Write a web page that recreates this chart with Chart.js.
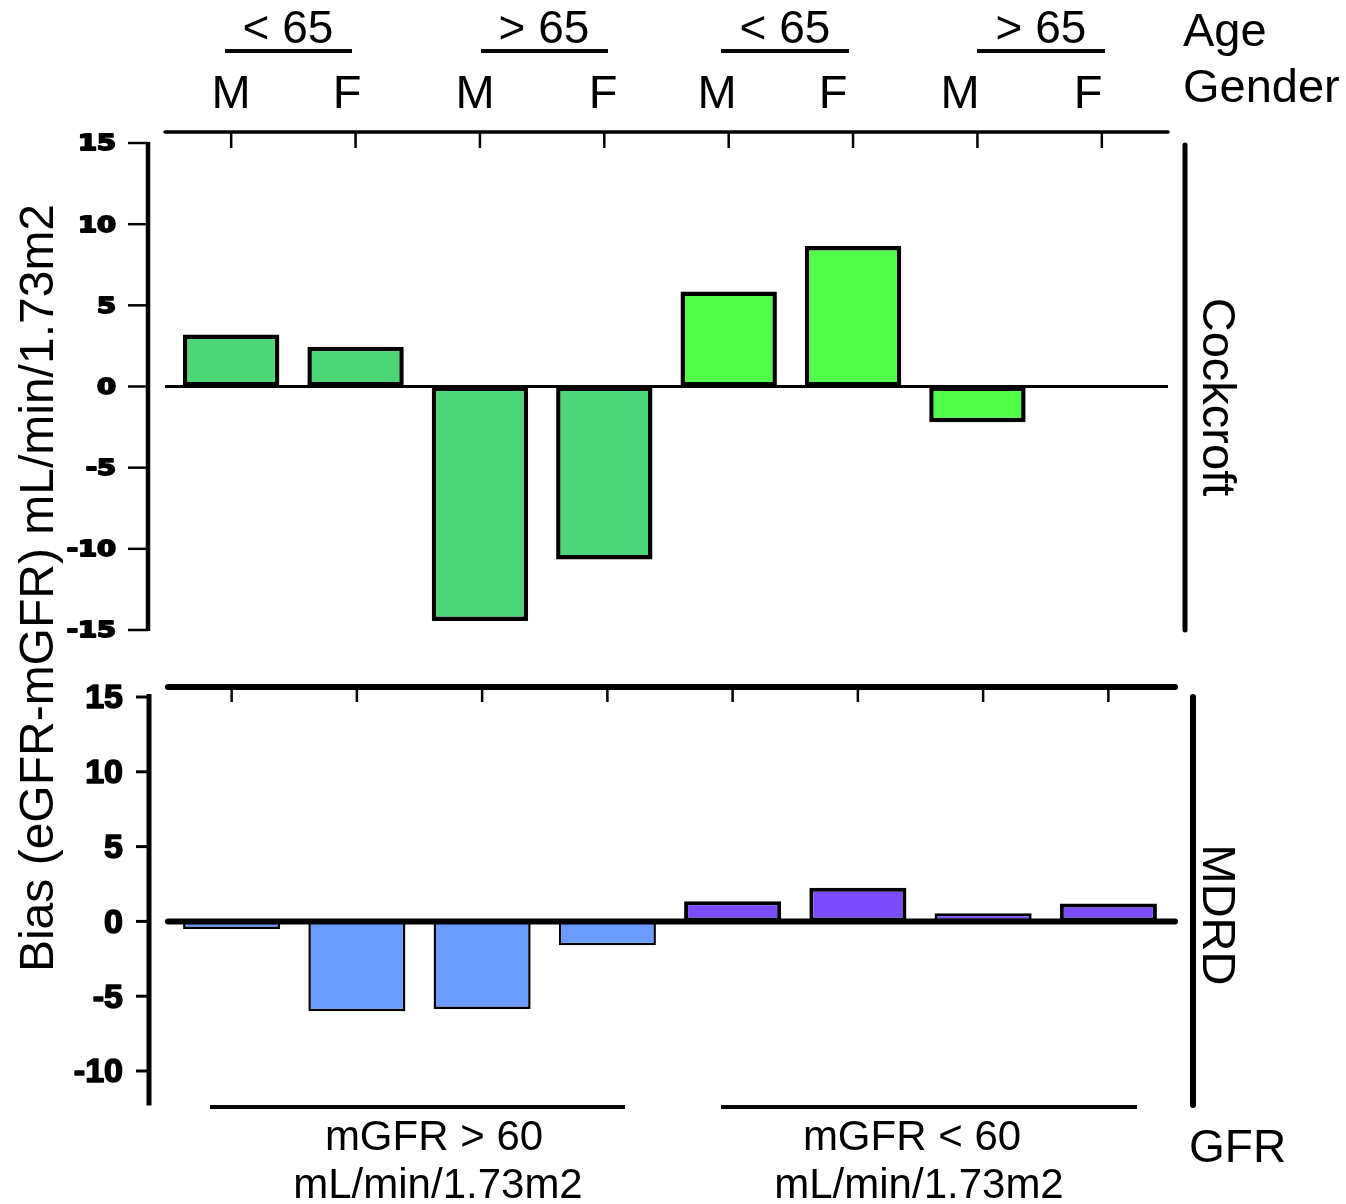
<!DOCTYPE html>
<html>
<head>
<meta charset="utf-8">
<script src="https://cdn.jsdelivr.net/npm/chart.js@4.4.0/dist/chart.umd.min.js"></script>
<style>
  html, body { margin: 0; padding: 0; background: #fff; }
  #wrap { position: relative; width: 1346px; height: 1204px; overflow: hidden; }
  canvas { position: absolute; left: 0; top: 0; }
</style>
</head>
<body>
<div id="wrap">
  <canvas id="top" width="1346" height="1204"></canvas>
  <canvas id="bottom" width="1346" height="1204"></canvas>
</div>
<script>
// ---------------- DATA ----------------
const categories = ['M', 'F', 'M', 'F', 'M', 'F', 'M', 'F'];
const ageGroups = ['< 65', '> 65', '< 65', '> 65'];
const cockcroftBias = [3.2, 2.45, -14.45, -10.65, 5.85, 8.65, -2.2, 0];
const mdrdBias = [-0.5, -6.0, -5.85, -1.6, 1.35, 2.25, 0.55, 1.2];
const cockcroftTicks = [15, 10, 5, 0, -5, -10, -15];
const mdrdTicks = [15, 10, 5, 0, -5, -10];
const gfrGroupLine1 = ['mGFR > 60', 'mGFR < 60'];
const gfrGroupLine2 = ['mL/min/1.73m2', 'mL/min/1.73m2'];
const yTitle = 'Bias (eGFR-mGFR) mL/min/1.73m2';
const panelNames = ['Cockcroft', 'MDRD'];

// ---------------- helpers ----------------
const FONT = '"Liberation Sans", Arial, Helvetica, sans-serif';
function line(ctx, x1, y1, x2, y2, w, cap) {
  ctx.beginPath();
  ctx.lineWidth = w;
  ctx.lineCap = cap || 'butt';
  ctx.moveTo(x1, y1);
  ctx.lineTo(x2, y2);
  ctx.stroke();
}
function text(ctx, s, x, y, font, align, baseline, rot, sx, strokeW) {
  ctx.save();
  ctx.translate(x, y);
  if (rot) ctx.rotate(rot);
  if (sx) ctx.scale(sx, 1);
  ctx.font = font;
  ctx.textAlign = align || 'center';
  ctx.textBaseline = baseline || 'alphabetic';
  ctx.fillText(s, 0, 0);
  if (strokeW) {
    ctx.lineWidth = strokeW;
    ctx.lineJoin = 'round';
    ctx.strokeText(s, 0, 0);
  }
  ctx.restore();
}

// ---------------- TOP (Cockcroft) ----------------
const topDecor = {
  id: 'topDecor',
  afterDatasetsDraw(chart) {
    const { ctx } = chart;
    const x = chart.scales.x, y = chart.scales.y;
    ctx.save();
    ctx.strokeStyle = '#000';
    ctx.fillStyle = '#000';
    // y axis
    line(ctx, 148, y.getPixelForValue(15) - 1, 148, y.getPixelForValue(-15) + 1, 4.5);
    cockcroftTicks.forEach(v => {
      const py = y.getPixelForValue(v);
      line(ctx, 128, py, 148, py, 2.5);
      text(ctx, String(v), 116, py + 2, 'bold 21px "DejaVu Sans", sans-serif', 'right', 'middle', 0, 1.3, 1.8);
    });
    // zero line
    const y0 = y.getPixelForValue(0);
    line(ctx, 165, y0, 1168, y0, 3);
    // top frame line with ticks
    line(ctx, 165, 132, 1168, 132, 3.5, 'round');
    categories.forEach((c, i) => {
      const px = x.getPixelForValue(i);
      line(ctx, px, 132, px, 148, 2.5);
    });
    // right bracket
    line(ctx, 1185, 145, 1185, 630, 5, 'round');
    text(ctx, panelNames[0], 1203, 397, '47px ' + FONT, 'center', 'alphabetic', Math.PI / 2);

    // header: age groups with underlines
    const ageX = [288, 544, 785, 1041];
    const ulStart = [225, 481, 721, 977];
    const ulEnd = [352, 608, 849, 1105];
    ageGroups.forEach((g, i) => {
      text(ctx, g, ageX[i], 43, '46px ' + FONT, 'center');
      line(ctx, ulStart[i], 51, ulEnd[i], 51, 4);
    });
    // gender labels
    const genX = [231, 347, 475, 603, 717, 833, 960, 1088];
    categories.forEach((c, i) => {
      text(ctx, c, genX[i], 108, '47px ' + FONT, 'center');
    });
    text(ctx, 'Age', 1183, 46, '47px ' + FONT, 'left');
    text(ctx, 'Gender', 1183, 102, '47px ' + FONT, 'left');

    // shared y title
    text(ctx, yTitle, 53, 588, '48px ' + FONT, 'center', 'alphabetic', -Math.PI / 2);
    ctx.restore();
  }
};

new Chart(document.getElementById('top'), {
  type: 'bar',
  data: {
    labels: categories,
    datasets: [{
      data: cockcroftBias,
      backgroundColor: ['#4cd676', '#4cd676', '#4cd676', '#4cd676', '#50ff4a', '#50ff4a', '#50ff4a', '#50ff4a'],
      borderColor: '#000',
      borderWidth: 4.5,
      borderSkipped: false,
      barPercentage: 0.775,
      categoryPercentage: 1
    }]
  },
  options: {
    responsive: false,
    animation: false,
    devicePixelRatio: 1,
    layout: { padding: { left: 169, right: 182, top: 143, bottom: 1204 - 630 } },
    plugins: { legend: { display: false }, tooltip: { enabled: false } },
    scales: {
      x: { display: false },
      y: { display: false, min: -15, max: 15 }
    }
  },
  plugins: [topDecor]
});

// ---------------- BOTTOM (MDRD) ----------------
const bottomDecor = {
  id: 'bottomDecor',
  afterDatasetsDraw(chart) {
    const { ctx } = chart;
    const x = chart.scales.x, y = chart.scales.y;
    ctx.save();
    ctx.strokeStyle = '#000';
    ctx.fillStyle = '#000';
    // y axis
    line(ctx, 149, y.getPixelForValue(15) - 3, 149, chart.chartArea.bottom, 5);
    mdrdTicks.forEach(v => {
      const py = y.getPixelForValue(v);
      line(ctx, 136, py, 149, py, 3);
      text(ctx, String(v), 123, py + 2, 'bold 34px ' + FONT, 'right', 'middle', 0, 1.0, 1.6);
    });
    // top frame line with ticks
    line(ctx, 168, 687, 1175, 687, 6, 'round');
    categories.forEach((c, i) => {
      const px = x.getPixelForValue(i);
      line(ctx, px, 687, px, 702, 2.5);
    });
    // zero line
    const y0 = y.getPixelForValue(0);
    line(ctx, 168, y0, 1175, y0, 6, 'round');
    // right bracket
    line(ctx, 1193, 697, 1193, 1105, 6, 'round');
    text(ctx, panelNames[1], 1203, 915, '47px ' + FONT, 'center', 'alphabetic', Math.PI / 2);

    // GFR groups
    const lnStart = [210, 721], lnEnd = [625, 1137];
    const t1X = [434, 912], t2X = [438, 919];
    gfrGroupLine1.forEach((g, i) => {
      line(ctx, lnStart[i], 1107, lnEnd[i], 1107, 4);
      text(ctx, g, t1X[i], 1150, '42px ' + FONT, 'center');
      text(ctx, gfrGroupLine2[i], t2X[i], 1198, '42px ' + FONT, 'center');
    });
    text(ctx, 'GFR', 1189, 1162, '46px ' + FONT, 'left');
    ctx.restore();
  }
};

new Chart(document.getElementById('bottom'), {
  type: 'bar',
  data: {
    labels: categories,
    datasets: [{
      data: mdrdBias,
      backgroundColor: ['#6a9bff', '#6a9bff', '#6a9bff', '#6a9bff', '#7a4bff', '#7a4bff', '#7a4bff', '#7a4bff'],
      borderColor: '#000',
      borderWidth: [2.5, 2.5, 2.5, 2.5, 4, 4, 3, 4],
      borderSkipped: false,
      barPercentage: 0.775,
      categoryPercentage: 1
    }]
  },
  options: {
    responsive: false,
    animation: false,
    devicePixelRatio: 1,
    layout: { padding: { left: 169, right: 175, top: 697, bottom: 98.6 } },
    plugins: { legend: { display: false }, tooltip: { enabled: false } },
    scales: {
      x: { display: false },
      y: { display: false, min: -12.3, max: 15 }
    }
  },
  plugins: [bottomDecor]
});
</script>
</body>
</html>
